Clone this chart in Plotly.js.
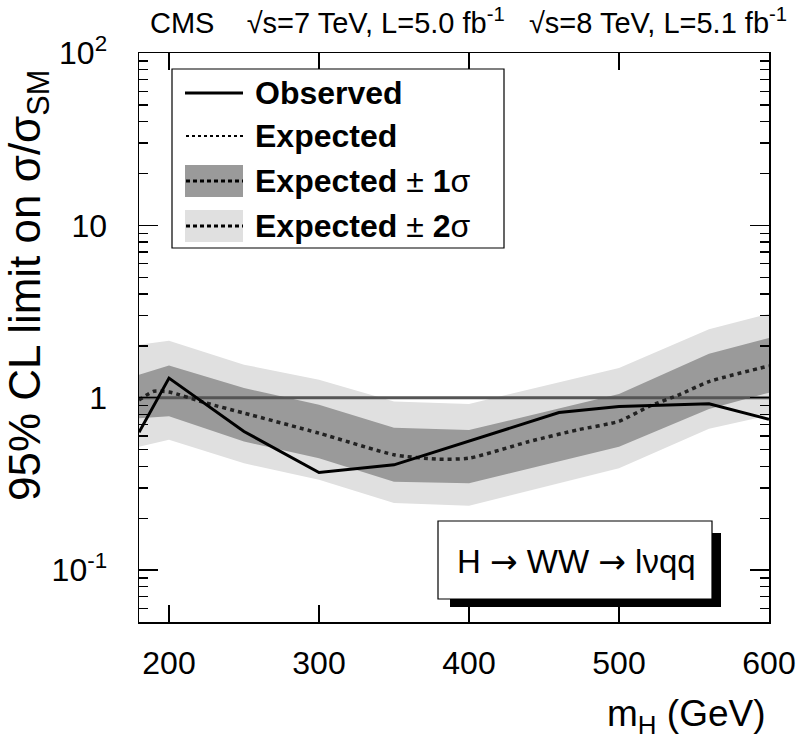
<!DOCTYPE html>
<html>
<head>
<meta charset="utf-8">
<script src="https://cdn.plot.ly/plotly-3.0.1.min.js"></script>
<style>html,body{margin:0;padding:0;background:#fff;}#chart{width:799px;height:739px;}</style>
</head>
<body>
<div id="chart"></div>
<script>
// ---- data ----
const massObserved = [180, 200, 250, 300, 350, 460, 500, 560, 600];
const limitObserved = [0.63, 1.30, 0.637, 0.368, 0.408, 0.82, 0.89, 0.923, 0.75];

const massExpected = [180, 190, 200, 225, 250, 300, 350, 380, 400, 440, 472, 500, 520, 540, 560, 600];
const limitExpected = [0.97, 1.09, 1.08, 0.93, 0.815, 0.623, 0.467, 0.44, 0.446, 0.557, 0.65, 0.73, 0.89, 1.04, 1.24, 1.53];

const massBand = [180, 200, 250, 300, 350, 400, 500, 560, 600];
const band2Up = [2.03, 2.14, 1.555, 1.27, 0.95, 0.92, 1.49, 2.5, 3.07];
const band1Up = [1.36, 1.54, 1.14, 0.91, 0.67, 0.65, 1.05, 1.8, 2.22];
const band1Down = [0.76, 0.78, 0.557, 0.446, 0.326, 0.319, 0.52, 0.86, 1.07];
const band2Down = [0.52, 0.57, 0.417, 0.334, 0.245, 0.236, 0.39, 0.66, 0.79];

const smMass = [180, 600];
const smRatio = [1, 1];

const xTickVals = [200, 300, 400, 500, 600];
const xTickText = ['200', '300', '400', '500', '600'];
const yTickVals = [0.1, 1, 10, 100];
const yTickText = ['10<sup>-1</sup>', '1', '10', '10<sup>2</sup>'];

const legendLabels = ['<b>Observed</b>', '<b>Expected</b>', '<b>Expected</b> \u00b1 <b>1</b>\u03c3', '<b>Expected</b> \u00b1 <b>2</b>\u03c3'];
const topText = 'CMS    \u221as=7 TeV, L=5.0 fb<sup>-1</sup>   \u221as=8 TeV, L=5.1 fb<sup>-1</sup>';
const ARROW = '<span style="font-family:DejaVu Sans">\u2192</span>';
const channelText = 'H ' + ARROW + ' WW ' + ARROW + ' l\u03bdqq';

// ---- layout helpers (pixel -> paper) ----
const W = 799, H = 739, L = 139, R = 769, T = 53, B = 622;
const px = p => (p - L) / (R - L);
const py = p => (B - p) / (B - T);

const C1 = '#9a9a9a', C2 = '#e0e0e0';
const FONT = 'Liberation Sans, Arial, Helvetica, sans-serif';

const traces = [
  {x: massBand, y: band2Down, mode: 'lines', line: {width: 0, color: C2}, hoverinfo: 'skip', showlegend: false},
  {x: massBand, y: band2Up, mode: 'lines', line: {width: 0, color: C2}, fill: 'tonexty', fillcolor: C2, hoverinfo: 'skip', showlegend: false},
  {x: massBand, y: band1Down, mode: 'lines', line: {width: 0, color: C1}, hoverinfo: 'skip', showlegend: false},
  {x: massBand, y: band1Up, mode: 'lines', line: {width: 0, color: C1}, fill: 'tonexty', fillcolor: C1, hoverinfo: 'skip', showlegend: false},
  {x: smMass, y: smRatio, mode: 'lines', line: {width: 3, color: '#555555'}, showlegend: false},
  {x: massExpected, y: limitExpected, mode: 'lines', line: {width: 3.5, color: '#222222', dash: '4px,4px', shape: 'spline', smoothing: 0.6}, showlegend: false},
  {x: massObserved, y: limitObserved, mode: 'lines', line: {width: 3, color: '#000000'}, showlegend: false}
];

// minor tick positions for the log axis
const minorVals = [];
for (let d = -2; d <= 1; d++) for (let k = 2; k <= 9; k++) minorVals.push(k * Math.pow(10, d));

const shapes = [];
const annotations = [];

// legend box
shapes.push({type: 'rect', xref: 'paper', yref: 'paper', x0: px(172), x1: px(504), y0: py(248), y1: py(69),
  line: {color: '#000', width: 1.2}, fillcolor: '#fff', layer: 'above'});
const legY = [93, 136, 181, 226];
// observed symbol
shapes.push({type: 'line', xref: 'paper', yref: 'paper', x0: px(185), x1: px(243), y0: py(legY[0]), y1: py(legY[0]), line: {color: '#000', width: 3}, layer: 'above'});
// band symbols
shapes.push({type: 'rect', xref: 'paper', yref: 'paper', x0: px(185), x1: px(243), y0: py(197), y1: py(165), line: {width: 0}, fillcolor: C1, layer: 'above'});
shapes.push({type: 'rect', xref: 'paper', yref: 'paper', x0: px(185), x1: px(243), y0: py(242), y1: py(210), line: {width: 0}, fillcolor: C2, layer: 'above'});
// dotted symbols
[1, 2, 3].forEach(i => {
  shapes.push({type: 'line', xref: 'paper', yref: 'paper', x0: px(186), x1: px(243), y0: py(legY[i]), y1: py(legY[i]),
    line: {color: '#000', width: i === 1 ? 2 : 3, dash: i === 1 ? '3px,3px' : '4px,3px'}, layer: 'above'});
});
legendLabels.forEach((t, i) => {
  annotations.push({xref: 'paper', yref: 'paper', x: px(253), y: py(legY[i]), xanchor: 'left', yanchor: 'middle',
    text: t, showarrow: false, font: {family: FONT, size: 32, color: '#000'}});
});

// channel box with shadow
shapes.push({type: 'rect', xref: 'paper', yref: 'paper', x0: px(450), x1: px(721), y0: py(607), y1: py(533), line: {width: 0}, fillcolor: '#000', layer: 'above'});
shapes.push({type: 'rect', xref: 'paper', yref: 'paper', x0: px(438), x1: px(712), y0: py(599), y1: py(521), line: {color: '#000', width: 1.2}, fillcolor: '#fff', layer: 'above'});
annotations.push({xref: 'paper', yref: 'paper', x: px(576), y: py(561), xanchor: 'center', yanchor: 'middle',
  text: channelText, showarrow: false, font: {family: FONT, size: 33, color: '#000'}});

// top header
annotations.push({xref: 'paper', yref: 'paper', x: px(148), y: py(21), xanchor: 'left', yanchor: 'middle',
  text: topText, showarrow: false, font: {family: FONT, size: 29, color: '#000'}});

// axis titles
annotations.push({xref: 'paper', yref: 'paper', x: px(768), y: py(716), xanchor: 'right', yanchor: 'middle',
  text: 'm<sub>H</sub> (GeV)', showarrow: false, font: {family: FONT, size: 37, color: '#000'}});
annotations.push({xref: 'paper', yref: 'paper', x: px(28), y: py(286), xanchor: 'center', yanchor: 'middle', textangle: -90,
  text: '95% CL limit on \u03c3/\u03c3<sub>SM</sub>', showarrow: false, font: {family: FONT, size: 44, color: '#000'}});

const layout = {
  width: W, height: H,
  margin: {l: L, r: W - R, t: T, b: H - B, pad: 0},
  paper_bgcolor: '#fff', plot_bgcolor: '#fff',
  showlegend: false,
  font: {family: FONT, color: '#000'},
  xaxis: {
    range: [180, 600], tickmode: 'array', tickvals: xTickVals, ticktext: xTickText,
    ticks: 'inside', ticklen: 17, tickwidth: 1.3, tickcolor: '#000',
    showline: true, linecolor: '#000', linewidth: 1.5, mirror: 'ticks',
    showgrid: false, zeroline: false,
    tickfont: {family: FONT, size: 32}, ticklabelstandoff: 12
  },
  yaxis: {
    type: 'log', range: [Math.log10(0.05), 2], tickmode: 'array', tickvals: yTickVals, ticktext: yTickText,
    ticks: 'inside', ticklen: 19, tickwidth: 1.3, tickcolor: '#000',
    minor: {ticks: 'inside', ticklen: 9, tickwidth: 1.3, tickcolor: '#000', tickmode: 'array', tickvals: minorVals, showgrid: false},
    showline: true, linecolor: '#000', linewidth: 1.5, mirror: 'ticks',
    showgrid: false, zeroline: false,
    tickfont: {family: FONT, size: 32}, ticklabelstandoff: 24
  },
  shapes: shapes,
  annotations: annotations
};

Plotly.newPlot('chart', traces, layout, {staticPlot: true, displayModeBar: false});
</script>
</body>
</html>
